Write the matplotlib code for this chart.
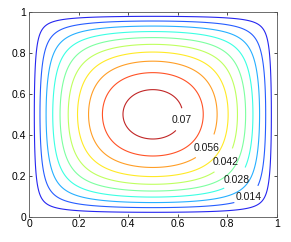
import numpy as np
import matplotlib
matplotlib.use("Agg")
import matplotlib.pyplot as plt

# contour levels and where the labels sit
plain_levels = [0.007, 0.021, 0.035, 0.049, 0.063]
label_levels = [0.014, 0.028, 0.042, 0.056, 0.07]
label_x = [0.882, 0.832, 0.784, 0.705, 0.603]
label_y = [0.102, 0.188, 0.277, 0.350, 0.476]
ticks = [0, 0.2, 0.4, 0.6, 0.8, 1]
tick_labels = ["0", "0.2", "0.4", "0.6", "0.8", "1"]

# field: solution of -lap(u) = 1 on the unit square, u = 0 on the edges
x = np.linspace(0, 1, 241)
X, Y = np.meshgrid(x, x)
u = X * (1 - X) / 2
for m in range(1, 80, 2):
    u -= 4 / (np.pi**3 * m**3) * np.sin(m * np.pi * X) * np.cosh(m * np.pi * (Y - 0.5)) / np.cosh(m * np.pi / 2)

plt.rcParams['font.family'] = ['Liberation Sans', 'DejaVu Sans']

fig = plt.figure(figsize=(2.91, 2.42), dpi=100)
ax = fig.add_axes([0.0997, 0.1046, 0.851, 0.846])

vmax = u.max()
ax.contour(X, Y, u, levels=plain_levels, cmap='jet', vmin=0, vmax=vmax,
           linewidths=0.8, alpha=0.85)
cs = ax.contour(X, Y, u, levels=label_levels, cmap='jet', vmin=0, vmax=vmax,
                linewidths=0.8, alpha=0.85)
ax.clabel(cs, manual=list(zip(label_x, label_y)),
          inline=True, inline_spacing=2, fmt='%g', fontsize=7.5, colors='k')
for t in cs.labelTexts:
    t.set_rotation(0)
    t.set_alpha(0.9)

ax.set_xlim(0, 1)
ax.set_ylim(0, 1)
ax.set_xticks(ticks)
ax.set_xticklabels(tick_labels)
ax.set_yticks(ticks)
ax.set_yticklabels(tick_labels)
ax.tick_params(direction='in', length=2.5, width=0.5, labelsize=7.5, pad=2,
               top=True, right=True, colors='k')
for s in ax.spines.values():
    s.set_linewidth(0.6)
    s.set_color('#555555')

fig.savefig("out.png", dpi=100)
